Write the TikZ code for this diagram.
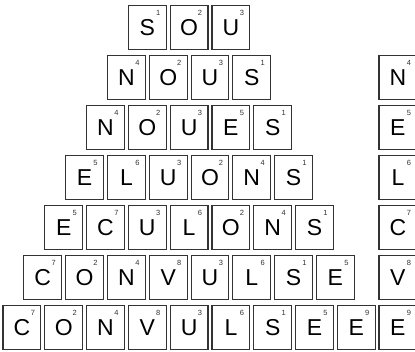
\documentclass[tikz,border=0pt]{standalone}
\usepackage{fontspec}
\setmainfont{Liberation Sans}
\begin{document}
\begin{tikzpicture}[x=1pt, y=1pt,
    tile/.style={draw=black!80, line width=1.1pt, minimum width=37.8pt, minimum height=43.6pt, inner sep=0pt, font=\fontsize{23}{23}\selectfont},
    num/.style={font=\fontsize{7.5}{7.5}\selectfont, text=black!80, inner sep=0pt}]
  \useasboundingbox (0,0) rectangle (415,-351);
  % Pyramide des mots
  \foreach \row [count=\r] in {{S/1,O/2,U/3},
      {N/4,O/2,U/3,S/1},
      {N/4,O/2,U/3,E/5,S/1},
      {E/5,L/6,U/3,O/2,N/4,S/1},
      {E/5,C/7,U/3,L/6,O/2,N/4,S/1},
      {C/7,O/2,N/4,V/8,U/3,L/6,S/1,E/5},
      {C/7,O/2,N/4,V/8,U/3,L/6,S/1,E/5,E/9}}
  {
    \foreach \l/\n [count=\i] in \row
    {
      \node[tile] (t\r-\i) at ({21.9+(7-\r)*20.9+(\i-1)*41.8}, {-27.5-(\r-1)*50}) {\l};
      \node[num] (n\r-\i) at ([xshift=-8.5pt, yshift=-8pt]t\r-\i.north east) {\n};
    }
  }
  % Lettres ajoutees
  \foreach \l/\n [count=\r from 2] in {N/4,E/5,L/6,C/7,V/8,E/9}
  {
    \node[tile] (a\r) at (397.9, {-27.5-(\r-1)*50}) {\l};
    \node[num] (m\r) at ([xshift=-8.5pt, yshift=-8pt]a\r.north east) {\n};
  }
\end{tikzpicture}
\end{document}
